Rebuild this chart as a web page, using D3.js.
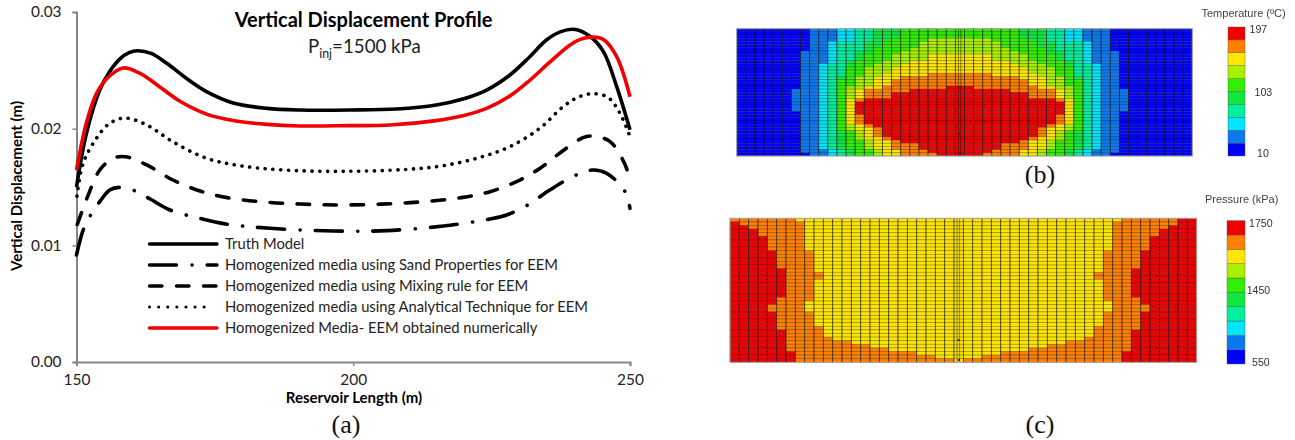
<!DOCTYPE html>
<html><head><meta charset="utf-8">
<script src="https://cdnjs.cloudflare.com/ajax/libs/d3/7.8.5/d3.min.js"></script>
<style>
html,body{margin:0;padding:0;background:#fff;}
svg{display:block;}
text{font-family:Lato,"Noto Sans",sans-serif;}
</style></head><body>
<svg id="c" width="1295" height="440"></svg>
<script>
// ---- Line chart data (a) ----
const truthX=[150,151.8,154.2,156,157.9,159.5,161,163.5,166.3,169.9,173.5,178.3,184.4,190.4,199.4,207.9,215,219.8,224.1,228.3,231.9,234.9,237.4,240.1,242.8,245.2,247.6,250];
const truthV=[.0150,.0196,.0233,.0249,.0260,.02652,.02668,.02645,.0256,.0243,.02317,.0222,.02174,.0216,.0216,.02169,.02203,.02254,.02331,.0246,.02617,.0276,.0283,.0285,.0279,.0266,.0236,.0199];
const redX=[150,151.8,153.6,155.5,158.4,161.5,165,168.7,173.5,178.3,184.4,190.4,199.4,206.6,215,219.8,224.1,228.3,231.9,235.5,239.1,241,243.3,245.2,247.6,250];
const redV=[.01646,.0205,.0230,.0243,.0252,.02474,.0236,.02235,.02125,.0207,.02037,.02023,.02026,.02031,.02069,.02111,.02174,.0228,.02415,.0257,.02715,.02765,.02785,.02765,.02617,.02274];
const dotX=[150,151.2,153.6,156,158.8,162.7,167.4,173.5,179.5,187.3,198.2,209.6,216.3,222.9,228.3,233.7,237.9,240.6,243.3,246,248.2,250];
const dotV=[.01389,.01703,.01917,.02046,.02091,.02031,.01888,.01746,.01683,.01646,.01634,.01651,.01683,.01754,.01846,.02003,.02188,.02269,.023,.02269,.02131,.01931];
const dashX=[150,152,154.2,156.6,158.8,162.7,167.4,172.3,177,183.2,190.4,198.8,210.3,219.8,224.7,229.5,233.7,237.4,241.5,243.3,246.4,249,250];
const dashV=[.0116,.01417,.01646,.01746,.0176,.01689,.0156,.01466,.01411,.01374,.01354,.01346,.01366,.01411,.0146,.01546,.01659,.01794,.01923,.01937,.01889,.01703,.0156];
const dashDotX=[150,151.2,152.4,154.2,156,157.8,160.2,163.3,166.9,172.3,177,185,196.4,206,216.3,224.7,227.7,231.3,235.5,240,243.3,245.8,249,250];
const dashDotV=[.00917,.01131,.01246,.01374,.01474,.01497,.01474,.01397,.01303,.01231,.01183,.01146,.01123,.01126,.01166,.01226,.0126,.0134,.01474,.01597,.01646,.01617,.01469,.01317];
const xTicks=[150,200,250];
const yTicks=[0,.01,.02,.03];
const seriesNames=["Truth Model","Homogenized media using Sand Properties for EEM","Homogenized media using Mixing rule for EEM","Homogenized media using Analytical Technique for EEM","Homogenized Media- EEM obtained numerically"];

// ---- Contour maps: each character is a colour class, 0 = lowest, 9 = highest ----
const levelColors=["#0000ff","#0a78f0","#00e6ff","#00f0a0","#10e840","#30f000","#a8f000","#ffe600","#ff8000","#f00000"];
const tempRows=[
"0000000011 1223344455 5555555555 5444332211 1000000000",
"0000000011 1223344455 5555555555 5444332211 1000000000",
"0000000011 1223344455 5555555555 5444332211 1000000000",
"0000000011 1223344555 5666666655 5544332211 1000000000",
"0000000011 2333445555 6666666665 5554433321 1000000000",
"0000000011 2333445555 6666666665 5554433321 1000000000",
"0000000011 2333455556 6666666666 5555433321 1000000000",
"0000000111 2334455566 6666666666 6555443321 1100000000",
"0000000111 2334555666 6777777766 6655543321 1100000000",
"0000000111 2334555666 6777777766 6655543321 1100000000",
"0000000111 2345556667 7777777777 6665554321 1100000000",
"0000000112 3345566677 7777777777 7666554332 1100000000",
"0000000112 3355666777 7777777777 7766655332 1100000000",
"0000000112 3355666777 7777777777 7766655332 1100000000",
"0000000112 3355667777 7888888877 7776655332 1100000000",
"0000000112 3456677788 8888888888 8777665432 1100000000",
"0000000112 3556677888 8888888888 8877665532 1100000000",
"0000000112 3556677888 8888888888 8877665532 1100000000",
"0000000112 3566778888 8889998888 8887766532 1100000000",
"0000001112 3567888889 9999999999 8888876532 1110000000",
"0000001112 3567888999 9999999999 9988876532 1110000000",
"0000001112 3567888999 9999999999 9988876532 1110000000",
"0000001112 3578999999 9999999999 9999987532 1110000000",
"0000001112 3579999999 9999999999 9999997532 1110000000",
"0000001112 3579999999 9999999999 9999997532 1110000000",
"0000001112 3579999999 9999999999 9999997532 1110000000",
"0000000112 3579999999 9999999999 9999997532 1100000000",
"0000000112 3578999999 9999999999 9999987532 1100000000",
"0000000112 3578999999 9999999999 9999987532 1100000000",
"0000000112 3578999999 9999999999 9999987532 1100000000",
"0000000112 3567899999 9999999999 9999876532 1100000000",
"0000000112 3567789999 9999999999 9998776532 1100000000",
"0000000112 3456789999 9999999999 9998765432 1100000000",
"0000000112 3456789999 9999999999 9998765432 1100000000",
"0000000112 3456778999 9999999999 9987765432 1100000000",
"0000000112 3455677899 9999999999 9877655432 1100000000",
"0000000112 3455677888 9999999998 8877655432 1100000000",
"0000000112 3455677888 9999999998 8877655432 1100000000",
"0000000111 2345567788 8999999988 8776554321 1100000000",
"0000000011 2345567788 8899999888 8776554321 1000000000"];
const pressRows=[
"8888888777 7777777777 7777777777 7777777777 7788888899",
"9888888877 7777777777 7777777777 7777777777 7888888899",
"9988888877 7777777777 7777777777 7777777777 7888888999",
"9998888877 7777777777 7777777777 7777777777 7888889999",
"9998888877 7777777777 7777777777 7777777777 7888889999",
"9999888877 7777777777 7777777777 7777777777 7888899999",
"9999888877 7777777777 7777777777 7777777777 7888899999",
"9999888877 7777777777 7777777777 7777777777 7888899999",
"9999888877 7777777777 7777777777 7777777777 7888899999",
"9999988887 7777777777 7777777777 7777777777 8888999999",
"9999988887 7777777777 7777777777 7777777777 8888999999",
"9999988887 7777777777 7777777777 7777777777 8888999999",
"9999988887 7777777777 7777777777 7777777777 8888999999",
"9999988887 7777777777 7777777777 7777777777 8888999999",
"9999998887 7777777777 7777777777 7777777777 8889999999",
"9999998888 7777777777 7777777777 7777777778 8889999999",
"9999998888 7777777777 7777777777 7777777778 8889999999",
"9999998887 7777777777 7777777777 7777777777 8889999999",
"9999998887 7777777777 7777777777 7777777777 8889999999",
"9999998887 7777777777 7777777777 7777777777 8889999999",
"9999998887 7777777777 7777777777 7777777777 8889999999",
"9999998887 7777777777 7777777777 7777777777 8889999999",
"9999988887 7777777777 7777777777 7777777777 8888999999",
"9999988877 7777777777 7777777777 7777777777 7888999999",
"9999888877 7777777777 7777777777 7777777777 7888899999",
"9999888877 7777777777 7777777777 7777777777 7888899999",
"9999988887 7777777777 7777777777 7777777777 8888999999",
"9999988887 7777777777 7777777777 7777777777 8888999999",
"9999988887 7777777777 7777777777 7777777777 8888999999",
"9999988887 7777777777 7777777777 7777777777 8888999999",
"9999988888 7777777777 7777777777 7777777778 8888999999",
"9999998888 7777777777 7777777777 7777777778 8889999999",
"9999998888 7777777777 7777777777 7777777778 8889999999",
"9999998888 8777777777 7777777777 7777777788 8889999999",
"9999998888 8887777777 7777777777 7777778888 8889999999",
"9999998888 8888877777 7777777777 7777888888 8889999999",
"9999998888 8888888777 7777777777 7788888888 8889999999",
"9999999888 8888888888 7777777778 8888888888 8899999999",
"9999999888 8888888888 8877777888 8888888888 8899999999",
"9999999888 8888888888 8888788888 8888888888 8899999999"];
const tempLegendTitle="Temperature (ºC)";
const tempLegendLabels=["197","103","10"];
const pressLegendTitle="Pressure (kPa)";
const pressLegendLabels=["1750","1450","550"];
const wellOffsets=[.33,.6]; // lines in the refined well column, as a fraction of the cell

const svg=d3.select("#c");
const x=d3.scaleLinear().domain([150,250]).range([76.5,630]);
const y=d3.scaleLinear().domain([0,.03]).range([362,12]);
const axisColor="#868686";

// axes
const gx=svg.append("g").attr("transform","translate(0,362)")
  .call(d3.axisBottom(x).tickValues(xTicks).tickSize(4).tickPadding(8).tickFormat(d3.format("d")));
const gy=svg.append("g").attr("transform","translate(76.5,0)")
  .call(d3.axisLeft(y).tickValues(yTicks).tickSize(4).tickPadding(11).tickFormat(d3.format(".2f")));
[gx,gy].forEach(g=>{
  g.select(".domain").attr("stroke",axisColor).attr("stroke-width",2);
  g.selectAll(".tick line").attr("stroke",axisColor).attr("stroke-width",1.5);
  g.selectAll("text").attr("fill","#222").style("font-size","15.4px").style("font-family","Lato");
});

const line=d3.line().x(d=>x(d[0])).y(d=>y(d[1])).curve(d3.curveCatmullRom.alpha(.5));
const series=[
 {xs:dashDotX,vs:dashDotV,color:"#000",dash:"27 15.5 0.1 15",w:3.6,anchorPx:300,patternPos:42.5,period:57.6},
 {xs:dashX,vs:dashV,color:"#000",dash:"12.5 14.5",w:3.6,anchorPx:351,patternPos:0,period:27},
 {xs:dotX,vs:dotV,color:"#000",dash:"0.1 7.7",w:3.6,anchorPx:343,patternPos:0,period:7.8},
 {xs:truthX,vs:truthV,color:"#000",dash:null,w:3.6},
 {xs:redX,vs:redV,color:"#f00000",dash:null,w:3.6}
];
series.forEach(s=>{
  const p=svg.append("path").datum(s.xs.map((v,i)=>[v,s.vs[i]]))
    .attr("d",line).attr("fill","none").attr("stroke",s.color).attr("stroke-width",s.w)
    .attr("stroke-linecap",s.dash?"round":"butt")
    .attr("stroke-dasharray",s.dash);
  if(s.dash){
    // align the dash phase with the reference at a given horizontal position
    const node=p.node(), total=node.getTotalLength();
    let lo=0,hi=total;
    for(let k=0;k<30;k++){const m=(lo+hi)/2; if(node.getPointAtLength(m).x<s.anchorPx) lo=m; else hi=m;}
    const d=((s.patternPos-lo)%s.period+s.period)%s.period;
    p.attr("stroke-dashoffset",d);
  }
});

// legend
const legendStyle=[
 {color:"#000",dash:null,w:3.4,end:217},{color:"#000",dash:"27 15.5 0.1 15",w:3.4,end:217},{color:"#000",dash:"12.5 14.5",w:3.4,end:217},
 {color:"#000",dash:"0.1 9",w:3,end:213},{color:"#f00000",dash:null,w:3.4,end:217}];
const legY=d3.scalePoint().domain(d3.range(seriesNames.length)).range([244,328]);
seriesNames.forEach((n,i)=>{
  svg.append("line").attr("x1",149.5).attr("x2",legendStyle[i].end).attr("y1",legY(i)).attr("y2",legY(i))
    .attr("stroke",legendStyle[i].color).attr("stroke-width",legendStyle[i].w)
    .attr("stroke-linecap","round").attr("stroke-dasharray",legendStyle[i].dash);
  svg.append("text").attr("x",225).attr("y",legY(i)+5).attr("fill","#222")
    .style("font-size","14.75px").text(n);
});

// titles
svg.append("text").attr("x",363.5).attr("y",27).attr("text-anchor","middle")
  .style("font-size","20px").style("font-weight","700").attr("fill","#000").text("Vertical Displacement Profile");
const sub=svg.append("text").attr("x",308).attr("y",53).attr("fill","#222").style("font-size","18.7px");
sub.append("tspan").text("P");
sub.append("tspan").attr("dy",5).style("font-size","12.4px").text("inj");
sub.append("tspan").attr("dy",-5).text("=1500 kPa");
svg.append("text").attr("transform","translate(22,186) rotate(-90)").attr("text-anchor","middle")
  .style("font-size","15px").style("font-weight","700").attr("fill","#000").text("Vertical Displacement (m)");
svg.append("text").attr("x",354).attr("y",403).attr("text-anchor","middle")
  .style("font-size","15px").style("font-weight","700").attr("fill","#000").text("Reservoir Length (m)");

// panel captions
[["(a)",346,433],["(b)",1040,183],["(c)",1040,433]].forEach(c=>{
  svg.append("text").attr("x",c[1]).attr("y",c[2]).attr("text-anchor","middle")
    .style("font-family","'Liberation Serif'").style("font-size","26px").attr("fill","#111").text(c[0]);
});

// contour panels
function panel(rows,x0,x1,y0,y1,lx0,lx1,ly0,ly1,title,titleX,titleY,labels,labelX,labelY){
  const grid=rows.map(r=>r.replace(/ /g,""));
  const bx=d3.scaleBand().domain(d3.range(50)).range([x0,x1]);
  const by=d3.scaleBand().domain(d3.range(rows.length)).range([y0,y1]);
  const g=svg.append("g").style("filter","blur(0.5px)");
  const cells=grid.flatMap((r,j)=>r.split("").map((c,i)=>({i,j,l:+c})));
  g.selectAll("rect.c").data(cells).enter().append("rect")
    .attr("x",d=>bx(d.i)).attr("y",d=>by(d.j)).attr("width",bx.bandwidth()).attr("height",by.bandwidth())
    .attr("fill",d=>levelColors[d.l]).attr("stroke","rgba(0,0,0,.34)").attr("stroke-width",.7);
  g.selectAll("line.v").data(d3.range(1,50)).enter().append("line")
    .attr("x1",d=>bx(d)).attr("x2",d=>bx(d)).attr("y1",y0).attr("y2",y1)
    .attr("stroke","rgba(0,0,0,.5)").attr("stroke-width",.9);
  wellOffsets.forEach(f=>{
    g.append("line").attr("x1",bx(24)+f*bx.bandwidth()).attr("x2",bx(24)+f*bx.bandwidth()).attr("y1",y0).attr("y2",y1)
      .attr("stroke","rgba(0,0,0,.5)").attr("stroke-width",.9);
  });
  g.append("rect").attr("x",x0).attr("y",y0).attr("width",x1-x0).attr("height",y1-y0)
    .attr("fill","none").attr("stroke","#a8a8a8").attr("stroke-width",1);
  const ly=d3.scaleBand().domain(d3.range(9,-1,-1)).range([ly0,ly1]);
  const lg=svg.append("g").style("filter","blur(0.45px)");
  lg.selectAll("rect").data(d3.range(10)).enter().append("rect")
    .attr("x",lx0).attr("width",lx1-lx0).attr("y",d=>ly(d)).attr("height",ly.bandwidth())
    .attr("fill",d=>levelColors[d]).attr("stroke","#555").attr("stroke-width",.4);
  lg.append("text").attr("x",titleX).attr("y",titleY).attr("fill","#444")
    .style("font-family","'Liberation Sans'").style("font-size","11px").text(title);
  labels.forEach((l,i)=>{
    lg.append("text").attr("x",labelX[i]).attr("y",labelY[i]).attr("fill","#333")
      .style("font-family","'Liberation Sans'").style("font-size","10.6px").text(l);
  });
}
panel(tempRows,736.7,1192.3,28.7,156,1228,1245,27,156,tempLegendTitle,1201.5,16.5,
  tempLegendLabels,[1249.5,1254.5,1257],[33,96,157]);
panel(pressRows,730,1196.7,218.3,362.3,1227,1245,220.7,364,pressLegendTitle,1205,202.5,
  pressLegendLabels,[1249,1246.7,1252],[227,294,365.5]);

// well markers
[[959.5,134],[960,153.5],[958.5,340],[959,360]].forEach(p=>{
  svg.append("circle").attr("cx",p[0]).attr("cy",p[1]).attr("r",1.1).attr("fill","#222");
});
</script>
</body></html>
